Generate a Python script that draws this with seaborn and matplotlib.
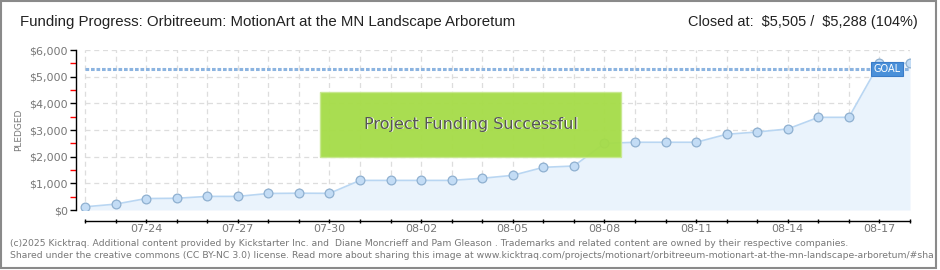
import matplotlib
matplotlib.use("Agg")
import matplotlib.pyplot as plt
import seaborn as sns
import pandas as pd
import numpy as np
from matplotlib.patches import Rectangle

# ---- data ----
dates = ["2025-07-22", "2025-07-23", "2025-07-24", "2025-07-25", "2025-07-26", "2025-07-27",
         "2025-07-28", "2025-07-29", "2025-07-30", "2025-07-31", "2025-08-01", "2025-08-02",
         "2025-08-03", "2025-08-04", "2025-08-05", "2025-08-06", "2025-08-07", "2025-08-08",
         "2025-08-09", "2025-08-10", "2025-08-11", "2025-08-12", "2025-08-13", "2025-08-14",
         "2025-08-15", "2025-08-16", "2025-08-17", "2025-08-18"]
pledged = [120, 220, 430, 440, 510, 510, 620, 630, 625, 1110, 1110, 1110, 1110, 1190,
           1300, 1600, 1650, 2500, 2540, 2540, 2540, 2840, 2925, 3040, 3475, 3475, 5505, 5505]
goal = 5288
closed_at = 5505
pct = 104
tick_dates = ["07-24", "07-27", "07-30", "08-02", "08-05", "08-08", "08-11", "08-14", "08-17"]
y_ticks = [0, 1000, 2000, 3000, 4000, 5000, 6000]
title = "Funding Progress: Orbitreeum: MotionArt at the MN Landscape Arboretum"
footer1 = ("(c)2025 Kicktraq. Additional content provided by Kickstarter Inc. and  Diane Moncrieff "
           "and Pam Gleason . Trademarks and related content are owned by their respective companies.")
footer2 = ("Shared under the creative commons (CC BY-NC 3.0) license. Read more about sharing this image "
           "at www.kicktraq.com/projects/motionart/orbitreeum-motionart-at-the-mn-landscape-arboretum/#sha")

sns.set_theme(style="white")
plt.rcParams['font.family'] = ['DejaVu Sans']

d = pd.to_datetime(pd.Series(dates))
day = (d - d.iloc[0]).dt.days
df = pd.DataFrame({"day": day, "pledged": pledged})
ndays = int(day.iloc[-1])

W, H = 940, 270
fig = plt.figure(figsize=(W / 100, H / 100), dpi=100)
ax = fig.add_axes([76 / W, 60 / H, (910 - 76) / W, 160 / H])

# grid
grid_c = "#dddddd"
ax.hlines(y_ticks, 0, ndays, colors=grid_c, linestyles=(0, (4, 3)), linewidth=0.9, zorder=0)
ax.vlines(df["day"], 0, 6000, colors=grid_c, linestyles=(0, (4, 3)), linewidth=0.9, zorder=0)

# fill + line + markers
ax.fill_between(df["day"], 0, df["pledged"], color="#eaf3fc", zorder=1, linewidth=0)
sns.lineplot(data=df, x="day", y="pledged", ax=ax, color="#b9d6f2", linewidth=1.2,
             marker="o", markersize=6.3, markerfacecolor="#c3dcf5",
             markeredgecolor="#8fb0d0", markeredgewidth=0.9, zorder=3)

# goal line
ax.plot([0, ndays], [goal, goal], color="#8cb4e0", linewidth=2.2,
        linestyle=(0, (1.2, 0.6)), zorder=2, solid_capstyle="butt")
ax.text(26.25, goal, "GOAL", color="white", fontsize=7, ha="center", va="center", zorder=4,
        bbox=dict(boxstyle="square,pad=0.25", facecolor="#4a90d9", edgecolor="#3a7cc8", linewidth=0.8))

# success box
ax.add_patch(Rectangle((0.2926, 0.331), 0.3609, 0.4065, transform=ax.transAxes,
                       facecolor="#a5dc47", edgecolor="#c8e890", linewidth=1, alpha=0.95, zorder=5))
ax.text(0.473 + 0.0012, 0.532, "Project Funding Successful", transform=ax.transAxes,
        fontsize=11.5, color="white", ha="center", va="center", zorder=6)
ax.text(0.473, 0.535, "Project Funding Successful", transform=ax.transAxes,
        fontsize=11.5, color="#555555", ha="center", va="center", zorder=7)

# axes
ax.set_xlim(-9 / 30.56, ndays)
ax.set_ylim(0, 6000)
ax.set_yticks(y_ticks)
ax.set_yticklabels(["\\$" + f"{v:,}" for v in y_ticks])
ax.set_yticks([500, 1500, 2500, 3500, 4500, 5500], minor=True)
ax.set_ylabel("PLEDGED", fontsize=6.5, color="#777777", labelpad=4)

tick_pos = [int((pd.Timestamp("2025-" + t) - d.iloc[0]).days) for t in tick_dates]
ax.set_xticks(tick_pos)
ax.set_xticklabels(tick_dates)
ax.set_xticks(list(df["day"]), minor=True)
ax.set_xlabel("")

ax.tick_params(axis="y", which="major", direction="out", length=4, width=1, color="black",
               pad=2, left=True, labelsize=8, labelcolor="#777777")
ax.tick_params(axis="y", which="minor", direction="out", length=4, width=1, color="red", left=True)
ax.tick_params(axis="x", which="both", direction="inout", length=3.5, width=1, color="black",
               bottom=True, pad=0.5, labelsize=8, labelcolor="#777777")

for s in ["top", "right"]:
    ax.spines[s].set_visible(False)
ax.spines["left"].set_color("black")
ax.spines["left"].set_linewidth(1)
ax.spines["bottom"].set_color("black")
ax.spines["bottom"].set_linewidth(1)
ax.spines["bottom"].set_position(("outward", 8))
ax.spines["bottom"].set_bounds(0, ndays)
ax.patch.set_alpha(0)

# header (fit to reference widths)
hdr_family = ["Liberation Sans", "DejaVu Sans"]
t1 = fig.text(20 / W, 1 - 22 / H, title, fontsize=11, color="#222222", va="center", ha="left",
              family=hdr_family)
t2 = fig.text(918 / W, 1 - 22 / H, "Closed at:  \\$5,505 /  \\$5,288 (104%)", fontsize=11,
              color="#222222", va="center", ha="right", family=hdr_family)
fig.canvas.draw()
r = fig.canvas.get_renderer()
for t, target in [(t1, 495), (t2, 228)]:
    w = t.get_window_extent(r).width
    t.set_fontsize(11 * target / w)

# footer
fig.text(10 / W, 1 - 243 / H, footer1, fontsize=6.7, color="#777777", va="center", ha="left")
fig.text(10 / W, 1 - 255 / H, footer2, fontsize=6.7, color="#777777", va="center", ha="left")

# border
fig.patches.append(Rectangle((1 / W, 2 / H), 935 / W, 267 / H, transform=fig.transFigure,
                             fill=False, edgecolor="#8a8a8a", linewidth=1.5, zorder=10))

fig.savefig("out.png", dpi=100)
